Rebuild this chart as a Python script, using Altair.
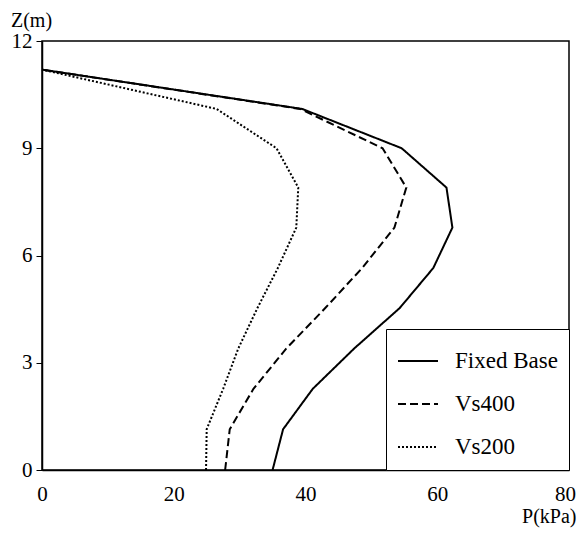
import altair as alt
import pandas as pd

depth = [0, 1.14, 2.27, 3.4, 4.53, 5.65, 6.78, 7.9, 9.0, 10.1, 11.2]
fixed_base = [35.0, 36.6, 41.1, 47.4, 54.3, 59.4, 62.3, 61.4, 54.6, 39.5, 0]
vs400 = [27.8, 28.5, 32.1, 37.1, 43.0, 48.6, 53.5, 55.3, 51.7, 39.2, 0]
vs200 = [24.9, 25.0, 27.5, 29.8, 32.7, 35.8, 38.6, 38.9, 35.6, 26.5, 0]
series_names = ["Fixed Base", "Vs400", "Vs200"]

rows = []
for name, vals in zip(series_names, [fixed_base, vs400, vs200]):
    for z, p in zip(depth, vals):
        rows.append({"series": name, "P": p, "Z": z})
df = pd.DataFrame(rows)

FONT = "Liberation Serif"

chart = alt.Chart(df).mark_line(color="black", strokeWidth=2).encode(
    x=alt.X("P:Q", scale=alt.Scale(domain=[0, 80], nice=False),
            axis=alt.Axis(values=[0, 20, 40, 60, 80], title="P(kPa)", grid=False,
                          ticks=False, labelPadding=13, labelFlush=False,
                          labelOffset={"condition": {"test": "datum.value == 80", "value": -4},
                                       "value": 0},
                          titleAngle=0, titleAlign="right", titleBaseline="middle",
                          titleX=534, titleY=46)),
    y=alt.Y("Z:Q", scale=alt.Scale(domain=[0, 12], nice=False),
            axis=alt.Axis(values=[0, 3, 6, 9, 12], title="Z(m)", grid=False,
                          tickSize=6, labelPadding=4, labelFlush=False, titleAngle=0,
                          titleAlign="center", titleBaseline="middle",
                          titleX=-11, titleY=-21)),
    strokeDash=alt.StrokeDash("series:N",
                              scale=alt.Scale(domain=series_names,
                                              range=[[1, 0], [8, 4], [2, 2]]),
                              legend=alt.Legend(title=None, orient="bottom-right", offset=0)),
    order=alt.Order("Z:Q"),
).properties(
    width=527, height=429,
    padding={"left": 34, "top": 33, "right": 8, "bottom": 58},
    autosize=alt.AutoSizeParams(type="none"),
).configure_view(
    stroke="black", strokeWidth=1.5
).configure_axis(
    labelFont=FONT, titleFont=FONT, labelFontSize=21, titleFontSize=20,
    titleFontWeight="normal", labelColor="black", titleColor="black",
    domainColor="black", tickColor="black", domainWidth=1.5
).configure_legend(
    labelFont=FONT, labelFontSize=23, labelColor="black",
    strokeColor="black", fillColor="white", padding=11, rowPadding=10,
    symbolType="stroke", symbolSize=1600, symbolStrokeWidth=2,
    symbolStrokeColor="black", labelOffset=16
)

chart.save("out.html", embed_options={"renderer": "svg", "actions": False})
